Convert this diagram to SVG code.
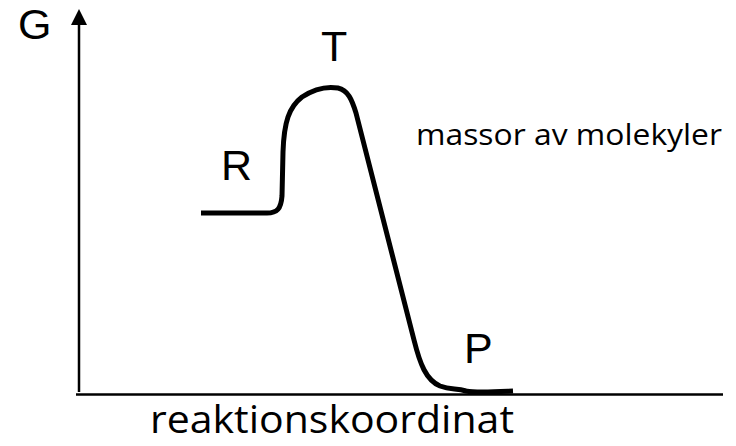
<svg xmlns="http://www.w3.org/2000/svg" width="736" height="446" viewBox="0 0 736 446">
<style>
.lbl{font-family:"Liberation Sans",Arial,sans-serif;font-size:43px;fill:#000}
.txt{font-family:"Open Sans","Noto Sans",sans-serif;fill:#000}
.axis{stroke:#000;stroke-width:2.5;fill:none}
.curve{stroke:#000;stroke-width:5;fill:none;stroke-linecap:butt;stroke-linejoin:round}
</style>
<g id="axes">
<line class="axis" x1="79" y1="392" x2="79" y2="24"/>
<path d="M71,25 L79,9 L87,25 Z" fill="#000"/>
<line class="axis" x1="76" y1="394.5" x2="723" y2="394.5"/>
</g>
<g id="curve">
<path class="curve" d="M201,213 L267,213 C277,213 281,209 282,196 L283,152 C284,122 289,107 302,97 C314,89 326,86 338,88 C348,90 352,100 356,113 L414,340 C420,364 426,380 440,386 C451,390 456,388 466,391 C476,393 492,392 513,391"/>
</g>
<g id="labels">
<text class="lbl" x="18" y="39">G</text>
<text class="lbl" x="321" y="61">T</text>
<text class="lbl" x="221" y="180">R</text>
<text class="lbl" x="464" y="363">P</text>
<text class="txt" x="416" y="145" font-size="29" textLength="306" lengthAdjust="spacingAndGlyphs">massor av molekyler</text>
<text class="txt" x="150" y="433" font-size="38" textLength="364" lengthAdjust="spacingAndGlyphs">reaktionskoordinat</text>
</g>
</svg>
